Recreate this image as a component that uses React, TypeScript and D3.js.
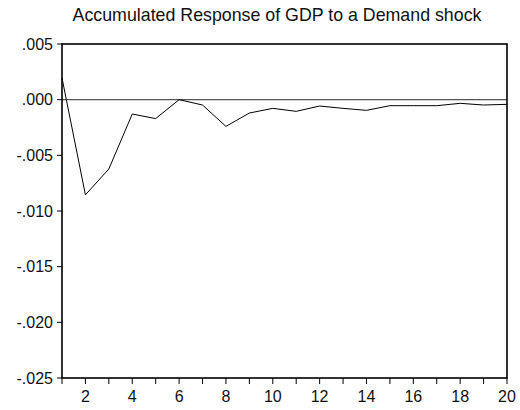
import React from "react";
import * as d3 from "d3";

const periods = [1, 2, 3, 4, 5, 6, 7, 8, 9, 10, 11, 12, 13, 14, 15, 16, 17, 18, 19, 20];
const response = [
  0.00195, -0.00855, -0.00623, -0.00129, -0.0017, 0.0, -0.00048, -0.0024, -0.0012, -0.00078,
  -0.00105, -0.00057, -0.00078, -0.00096, -0.00054, -0.00054, -0.00054, -0.00033, -0.00048, -0.00042,
];
const yTicks = [0.005, 0.0, -0.005, -0.01, -0.015, -0.02, -0.025];
const xLabelTicks = [2, 4, 6, 8, 10, 12, 14, 16, 18, 20];
const title = "Accumulated Response of GDP to a Demand shock";

const W = 520;
const H = 410;
const left = 62;
const right = 507;
const top = 44;
const bottom = 378;

export default function App() {
  const x = d3.scaleLinear().domain([1, 20]).range([left, right]);
  const y = d3.scaleLinear().domain([-0.025, 0.005]).range([bottom, top]);
  const line = d3
    .line<number>()
    .x((_, i) => x(periods[i]))
    .y((d) => y(d));
  const fmt = (v: number) => {
    const s = Math.abs(v).toFixed(3).replace(/^0/, "");
    return v < 0 ? "-" + s : s;
  };
  const font = "'Liberation Sans', Arial, sans-serif";
  return (
    <svg
      width={W}
      height={H}
      style={{ position: "absolute", left: 0, top: 0, background: "#fff" }}
      fontFamily={font}
    >
      <rect x={0} y={0} width={W} height={H} fill="#fff" />
      <text x={277} y={20.5} textAnchor="middle" fontSize={17.8} fill="#111">
        {title}
      </text>
      <line x1={left} x2={right} y1={y(0)} y2={y(0)} stroke="#555" strokeWidth={1.2} />
      <path d={line(response) || ""} fill="none" stroke="#000" strokeWidth={1} />
      <rect
        x={left}
        y={top}
        width={right - left}
        height={bottom - top}
        fill="none"
        stroke="#000"
        strokeWidth={1.6}
      />
      {yTicks.map((t) => (
        <g key={"y" + t}>
          <line x1={left - 5} x2={left} y1={y(t)} y2={y(t)} stroke="#000" strokeWidth={1} />
          <text x={left - 9} y={y(t)} dy="0.36em" textAnchor="end" fontSize={16} fill="#111">
            {fmt(t)}
          </text>
        </g>
      ))}
      {periods.map((p) => (
        <line key={"xt" + p} x1={x(p)} x2={x(p)} y1={bottom} y2={bottom + 6} stroke="#000" strokeWidth={1} />
      ))}
      {xLabelTicks.map((p) => (
        <text key={"xl" + p} x={x(p)} y={402} textAnchor="middle" fontSize={16} fill="#111">
          {p}
        </text>
      ))}
    </svg>
  );
}
